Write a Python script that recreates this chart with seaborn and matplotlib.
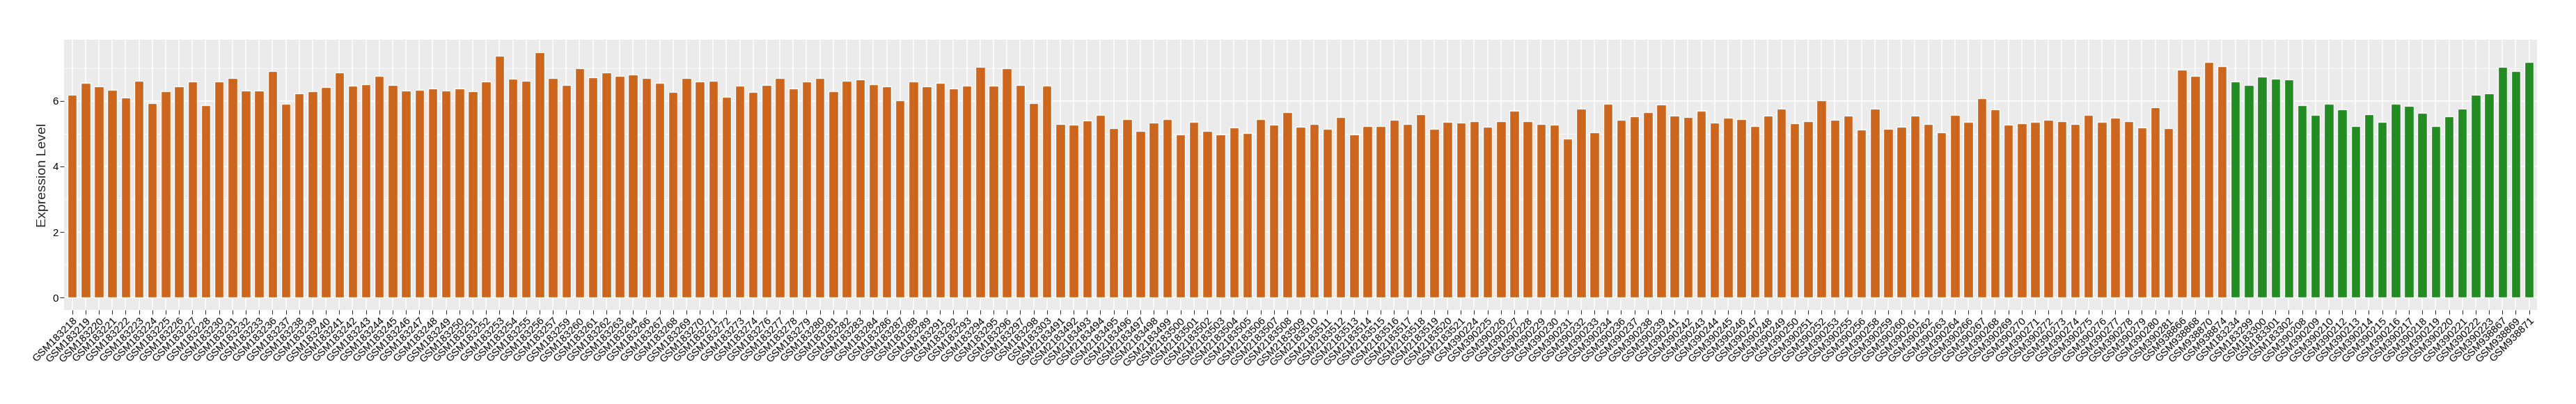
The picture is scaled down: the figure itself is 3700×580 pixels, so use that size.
import numpy as np
import pandas as pd
import seaborn as sns
import matplotlib.pyplot as plt
from matplotlib.ticker import MultipleLocator

# sample ids and expression values
tumor_samples = [
    "GSM183218", "GSM183219", "GSM183220", "GSM183221", "GSM183222", "GSM183223",
    "GSM183224", "GSM183225", "GSM183226", "GSM183227", "GSM183228", "GSM183230",
    "GSM183231", "GSM183232", "GSM183233", "GSM183236", "GSM183237", "GSM183238",
    "GSM183239", "GSM183240", "GSM183241", "GSM183242", "GSM183243", "GSM183244",
    "GSM183245", "GSM183246", "GSM183247", "GSM183248", "GSM183249", "GSM183250",
    "GSM183251", "GSM183252", "GSM183253", "GSM183254", "GSM183255", "GSM183256",
    "GSM183257", "GSM183259", "GSM183260", "GSM183261", "GSM183262", "GSM183263",
    "GSM183264", "GSM183266", "GSM183267", "GSM183268", "GSM183269", "GSM183270",
    "GSM183271", "GSM183272", "GSM183273", "GSM183274", "GSM183276", "GSM183277",
    "GSM183278", "GSM183279", "GSM183280", "GSM183281", "GSM183282", "GSM183283",
    "GSM183284", "GSM183286", "GSM183287", "GSM183288", "GSM183289", "GSM183291",
    "GSM183292", "GSM183293", "GSM183294", "GSM183295", "GSM183296", "GSM183297",
    "GSM183298", "GSM183303",
    "GSM2183491", "GSM2183492", "GSM2183493", "GSM2183494", "GSM2183495", "GSM2183496",
    "GSM2183497", "GSM2183498", "GSM2183499", "GSM2183500", "GSM2183501", "GSM2183502",
    "GSM2183503", "GSM2183504", "GSM2183505", "GSM2183506", "GSM2183507", "GSM2183508",
    "GSM2183509", "GSM2183510", "GSM2183511", "GSM2183512", "GSM2183513", "GSM2183514",
    "GSM2183515", "GSM2183516", "GSM2183517", "GSM2183518", "GSM2183519", "GSM2183520",
    "GSM2183521",
    "GSM390224", "GSM390225", "GSM390226", "GSM390227", "GSM390228", "GSM390229",
    "GSM390230", "GSM390231", "GSM390232", "GSM390233", "GSM390234", "GSM390236",
    "GSM390237", "GSM390238", "GSM390239", "GSM390241", "GSM390242", "GSM390243",
    "GSM390244", "GSM390245", "GSM390246", "GSM390247", "GSM390248", "GSM390249",
    "GSM390250", "GSM390251", "GSM390252", "GSM390253", "GSM390255", "GSM390256",
    "GSM390258", "GSM390259", "GSM390260", "GSM390261", "GSM390262", "GSM390263",
    "GSM390264", "GSM390266", "GSM390267", "GSM390268", "GSM390269", "GSM390270",
    "GSM390271", "GSM390272", "GSM390273", "GSM390274", "GSM390275", "GSM390276",
    "GSM390277", "GSM390278", "GSM390279", "GSM390280", "GSM390281",
    "GSM938866", "GSM938868", "GSM938870", "GSM938874",
]
tumor_values = [
    6.19, 6.55, 6.44, 6.34, 6.11, 6.62, 5.92, 6.30, 6.43, 6.58, 5.86, 6.58,
    6.70, 6.32, 6.32, 6.91, 5.90, 6.23, 6.30, 6.41, 6.87, 6.47, 6.51, 6.76,
    6.49, 6.32, 6.34, 6.38, 6.32, 6.38, 6.30, 6.58, 7.37, 6.68, 6.62, 7.48,
    6.70, 6.49, 7.00, 6.72, 6.87, 6.76, 6.80, 6.70, 6.55, 6.28, 6.70, 6.58,
    6.62, 6.13, 6.47, 6.26, 6.49, 6.70, 6.37, 6.59, 6.70, 6.30, 6.62, 6.66,
    6.51, 6.43, 6.02, 6.59, 6.44, 6.55, 6.37, 6.47, 7.04, 6.47, 7.00, 6.49,
    5.92, 6.47,
    5.29, 5.27, 5.39, 5.56, 5.17, 5.45, 5.08, 5.33, 5.44, 4.97, 5.35, 5.08,
    4.97, 5.18, 5.02, 5.44, 5.27, 5.65, 5.21, 5.29, 5.14, 5.50, 4.97, 5.23,
    5.23, 5.42, 5.29, 5.60, 5.14, 5.35, 5.33,
    5.38, 5.21, 5.38, 5.69, 5.38, 5.29, 5.27, 4.85, 5.77, 5.03, 5.90, 5.42,
    5.52, 5.65, 5.88, 5.54, 5.50, 5.69, 5.33, 5.48, 5.45, 5.24, 5.54, 5.77,
    5.31, 5.38, 6.02, 5.42, 5.54, 5.12, 5.75, 5.14, 5.21, 5.54, 5.29, 5.03,
    5.56, 5.35, 6.07, 5.74, 5.27, 5.31, 5.35, 5.42, 5.38, 5.29, 5.56, 5.35,
    5.48, 5.38, 5.18, 5.81, 5.17,
    6.94, 6.76, 7.18, 7.06,
]
normal_samples = [
    "GSM183234", "GSM183299", "GSM183300", "GSM183301", "GSM183302",
    "GSM390208", "GSM390209", "GSM390210", "GSM390212", "GSM390213", "GSM390214",
    "GSM390215", "GSM390216", "GSM390217", "GSM390218", "GSM390219", "GSM390220",
    "GSM390221", "GSM390222", "GSM390223",
    "GSM938867", "GSM938869", "GSM938871",
]
normal_values = [
    6.59, 6.49, 6.74, 6.68, 6.66,
    5.86, 5.56, 5.90, 5.74, 5.23, 5.59, 5.35, 5.90, 5.84, 5.63, 5.24, 5.52,
    5.77, 6.19, 6.22,
    7.04, 6.91, 7.18,
]
group_colors = {"tumor": "#CD661D", "normal": "#228B22"}

df = pd.DataFrame({
    "sample": tumor_samples + normal_samples,
    "value": tumor_values + normal_values,
    "group": ["tumor"] * len(tumor_samples) + ["normal"] * len(normal_samples),
})

sns.set_theme(style="darkgrid")
plt.rcParams["font.family"] = ["Liberation Sans", "DejaVu Sans"]

fig = plt.figure(figsize=(37, 5.8), dpi=100)
ax = fig.add_axes([0.0249, 0.233, 0.96, 0.668])

sns.barplot(data=df, x="sample", y="value", hue="group", order=df["sample"],
            palette=group_colors, dodge=False, width=0.7, saturation=1,
            legend=False, ax=ax)

n = len(df)
ymax = df["value"].max()
ax.set_xlim(-0.6, n - 1 + 0.6)
ax.set_ylim(-0.05 * ymax, 1.05 * ymax)

# ggplot-like panel
ax.set_facecolor("#EBEBEB")
for s in ax.spines.values():
    s.set_visible(False)
ax.yaxis.set_major_locator(MultipleLocator(2))
ax.yaxis.set_minor_locator(MultipleLocator(1))
ax.grid(which="major", color="white", linewidth=1.1)
ax.grid(which="minor", axis="y", color="white", linewidth=0.55)
ax.set_axisbelow(True)

ax.tick_params(axis="both", which="major", length=4, width=0.8, color="#333333",
               labelsize=10.8, labelcolor="black", pad=2)
ax.tick_params(axis="both", which="minor", length=0)
ax.tick_params(axis="x", bottom=True)
ax.tick_params(axis="y", left=True)
plt.setp(ax.get_xticklabels(), rotation=45, ha="right", va="top",
         rotation_mode="anchor")

ax.set_xlabel("")
ax.set_ylabel("Expression Level", fontsize=14, labelpad=4)

fig.savefig("out.png", dpi=100)
